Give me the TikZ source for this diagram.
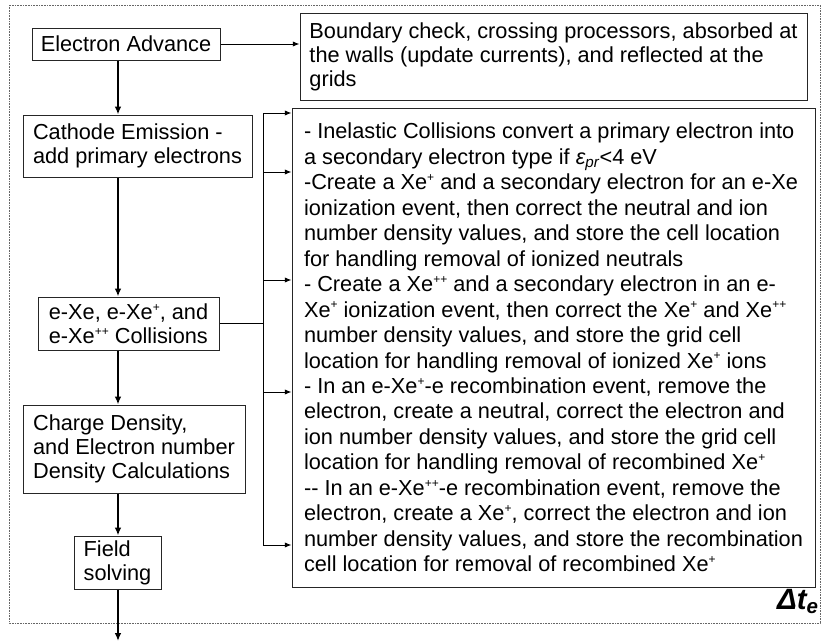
\documentclass[tikz,border=0pt]{standalone}
\usepackage{fontspec}
\setmainfont{Liberation Sans}
\usetikzlibrary{arrows.meta}
\newcommand\boxfont{\fontsize{16.3}{18}\selectfont}
\newcommand\bigfont{\fontsize{16.3}{19.1}\selectfont}
\newcommand\spx[1]{\raisebox{0.38em}{\fontsize{9}{9}\selectfont #1}}
\begin{document}
\begin{tikzpicture}[x=0.75pt,y=-0.75pt,
  box/.style={draw=black!85, line width=0.75pt, inner sep=0pt, font=\boxfont, align=left},
  thinarrow/.style={draw, line width=0.75pt, -{Latex[length=5pt,width=4pt]}},
  thickarrow/.style={draw, line width=1.6pt, -{Latex[length=6pt,width=5pt]}},
  conn/.style={draw, line width=0.75pt},
  frame/.style={draw=black!60, dash pattern=on 0.6pt off 0.6pt, line width=0.75pt}]
\useasboundingbox (0,0) rectangle (822,643);
\draw[frame] (9,5) rectangle (820,623);

\node[box, minimum width=141pt, minimum height=24pt] (adv) at (126,44) {Electron Advance};
\node[box, minimum width=380.25pt, minimum height=65.25pt] (bnd) at (553.5,56.5)
  {Boundary check, crossing processors, absorbed at\\the walls (update currents), and reflected at the\\grids};
\node[box, minimum width=171.75pt, minimum height=46.5pt] (cat) at (137.5,146)
  {Cathode Emission -\\add primary electrons};
\node[box, minimum width=135.75pt, minimum height=39.75pt] (col) at (128.5,323.5)
  {e-Xe, e-Xe\spx{+}, and\\e-Xe\spx{++} Collisions};
\node[box, minimum width=166.5pt, minimum height=66pt] (chg) at (134,449)
  {Charge Density,\\and Electron number\\Density Calculations};
\node[box, minimum width=65.25pt, minimum height=39.75pt] (fld) at (117.5,562.5)
  {Field\\solving};
\node[box, font=\bigfont, minimum width=392.25pt, minimum height=359.25pt] (big) at (553.5,347.5)
  {- Inelastic Collisions convert a primary electron into\\
a secondary electron type if {\itshape ε\textsubscript{pr}}<4 eV\\
-Create a Xe\spx{+} and a secondary electron for an e-Xe\\
ionization event, then correct the neutral and ion\\
number density values, and store the cell location\\
for handling removal of ionized neutrals\\
- Create a Xe\spx{++} and a secondary electron in an e-\\
Xe\spx{+} ionization event, then correct the Xe\spx{+} and Xe\spx{++}\\
number density values, and store the grid cell\\
location for handling removal of ionized Xe\spx{+} ions\\
- In an e-Xe\spx{+}-e recombination event, remove the\\
electron, create a neutral, correct the electron and\\
ion number density values, and store the grid cell\\
location for handling removal of recombined Xe\spx{+}\\
-{}- In an e-Xe\spx{++}-e recombination event, remove the\\
electron, create a Xe\spx{+}, correct the electron and ion\\
number density values, and store the recombination\\
cell location for removal of recombined Xe\spx{+}};
\node[anchor=base east, inner sep=0pt, font=\fontsize{22}{26}\selectfont\bfseries\itshape] (dt) at (819,609) {Δt\textsubscript{e}};

\coordinate (ax) at (118,0);
\coordinate (out) at (118,641);
\coordinate (b1) at (263,113);
\coordinate (b2) at (263,172);
\coordinate (b3) at (263,280);
\coordinate (b4) at (263,392);
\coordinate (b5) at (263,545);

\path[thinarrow] (adv.east) -- (adv.east -| bnd.west);
\path[thickarrow] (adv.south -| ax) -- (cat.north -| ax);
\path[thickarrow] (cat.south -| ax) -- (col.north -| ax);
\path[thickarrow] (col.south -| ax) -- (chg.north -| ax);
\path[thickarrow] (chg.south -| ax) -- (fld.north -| ax);
\path[thickarrow] (fld.south -| ax) -- (out);

\path[conn] (col.east) -- (col.east -| b1);
\path[conn] (b1) -- (b5);
\foreach \b in {b1,b2,b3,b4,b5}
  \path[thinarrow] (\b) -- (\b -| big.west);
\end{tikzpicture}
\end{document}
